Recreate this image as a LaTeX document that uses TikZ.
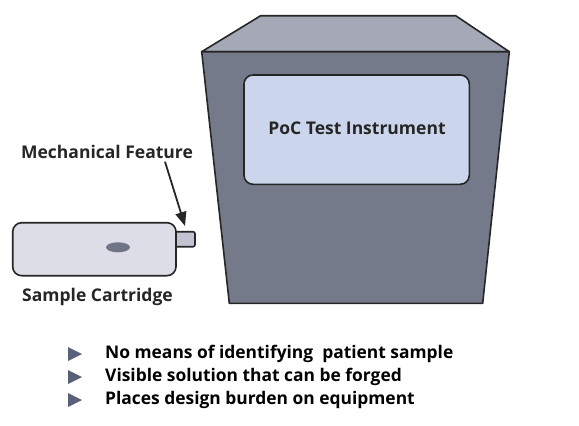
\documentclass[tikz,border=0pt]{standalone}
\usepackage{fontspec}
\setmainfont{Open Sans}
\usetikzlibrary{positioning,arrows.meta}
\definecolor{boxfront}{HTML}{747A8A}
\definecolor{boxtop}{HTML}{A4A8B7}
\definecolor{screenfill}{HTML}{CBD6EC}
\definecolor{cartfill}{HTML}{DCDDE6}
\definecolor{tabfill}{HTML}{C1C3D1}
\definecolor{spotfill}{HTML}{6F7486}
\definecolor{bulletfill}{HTML}{5B607A}
\definecolor{outline}{HTML}{262626}
\def\lw{1.6pt}
\tikzset{
  label text/.style={font=\bfseries\fontsize{17.5}{21}\selectfont, text=outline},
  bullet/.style={fill=bulletfill, draw=none},
  bullet text/.style={font=\bfseries\fontsize{17.4}{21}\selectfont, text=black, anchor=west, inner sep=0pt},
}
\begin{document}
\begin{tikzpicture}[x=1pt,y=-1pt,line join=round]
  \useasboundingbox (0,0) rectangle (579,426);

  % instrument: top face and front face
  \draw[outline, line width=\lw, fill=boxtop] (201.7,51.7) -- (260.7,15.7) -- (455.7,15.7) -- (509.3,51.7) -- cycle;
  \draw[outline, line width=\lw, fill=boxfront] (201.7,51.7) -- (509.3,51.7) -- (482.7,303.3) -- (229.3,303.3) -- cycle;
  \draw[outline, line width=\lw, fill=screenfill, rounded corners=9pt] (244,75) rectangle (469.3,184.3);
  \node[label text] (instrument) at (357,128) {PoC Test Instrument};

  % cartridge
  \draw[outline, line width=\lw, fill=tabfill, rounded corners=2pt] (170,231.7) rectangle (195,246.7);
  \draw[outline, line width=\lw, fill=cartfill, rounded corners=9pt] (12.7,222.7) rectangle (176,275.7);
  \fill[spotfill] (118,247.3) ellipse (12 and 5);
  \coordinate (tab) at (185,226);
  \node[label text] (feature) at (107,151.7) {Mechanical Feature};
  \node[label text] (cartridge) at (97.5,296.7) {Sample Cartridge};
  \draw[-{Triangle[length=14pt,width=11pt]}, line width=1.8pt, outline] (165,161.7) -- (tab);

  % list of drawbacks
  \foreach \y/\t in {354/{No means of identifying\ \ patient sample},
                     377/{Visible solution that can be forged},
                     400/{Places design burden on equipment}}{
    \fill[bullet] (68,\y-7) -- (82,\y) -- (68,\y+7) -- cycle;
    \node[bullet text] at (105,\y) {\t};
  }

\end{tikzpicture}
\end{document}
